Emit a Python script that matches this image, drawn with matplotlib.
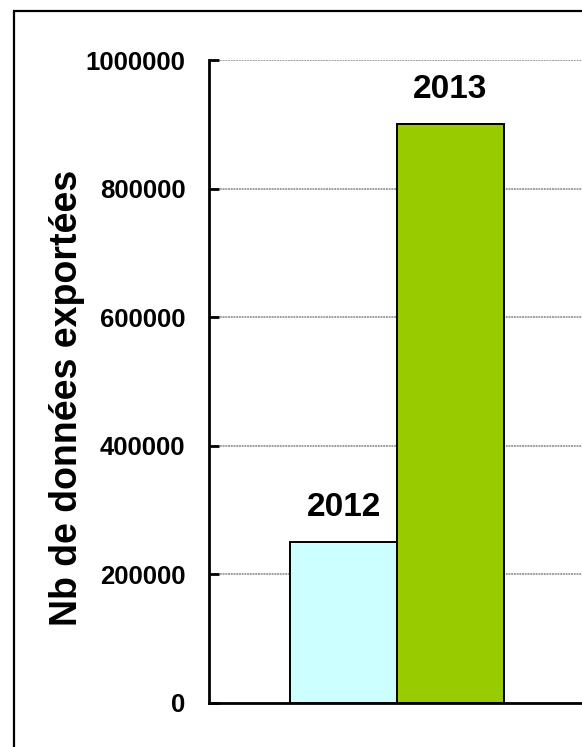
import matplotlib
matplotlib.use("Agg")
import matplotlib.pyplot as plt
from matplotlib.patches import Rectangle

plt.rcParams['font.family'] = ['Liberation Sans', 'DejaVu Sans']
plt.rcParams['font.weight'] = 'bold'

years = ['2012', '2013']
exports = [250000, 900000]
colors = ['#CCFFFF', '#99CC00']
yticks = [0, 200000, 400000, 600000, 800000, 1000000]

W, H = 582, 747
fig = plt.figure(figsize=(W / 100, H / 100), dpi=100)

# frame around the chart (right and bottom edges fall outside the image)
fig.patches.append(Rectangle((14 / W, -0.05), 1.2, 1.05 - 11 / H,
                             transform=fig.transFigure, fill=False,
                             edgecolor='black', linewidth=1.6, clip_on=False))

ax = fig.add_axes([209 / W, 44 / H, 376 / W, 643 / H])

xpos = [-0.5, 0.5]
bars = ax.bar(xpos, exports, width=1.0, color=colors, edgecolor='black',
              linewidth=1.4, zorder=3)
for x, v, lab in zip(xpos, exports, years):
    ax.annotate(lab, xy=(x, v), xytext=(0, 14), textcoords='offset points',
                ha='center', va='bottom', fontsize=24, fontweight='bold')

ax.set_xlim(-1.76, 1.76)
ax.set_ylim(0, 1000000)
ax.set_yticks(yticks)
ax.set_yticklabels([str(t) for t in yticks], fontsize=18.5, fontweight='bold')
ax.set_xticks([])
ax.tick_params(axis='y', direction='in', length=7, width=2, pad=17)

ax.yaxis.grid(True, color='#a0a0a0', linestyle=(0, (1, 0.4)), linewidth=1.4, zorder=0)
ax.set_axisbelow(True)

for side in ['top', 'right']:
    ax.spines[side].set_visible(False)
for side in ['left', 'bottom']:
    ax.spines[side].set_linewidth(2)

fig.text(67 / W, 1 - 398 / H, 'Nb de données exportées', rotation=90,
         ha='center', va='center', fontsize=27, fontweight='bold')

fig.savefig('out.png', dpi=100)
